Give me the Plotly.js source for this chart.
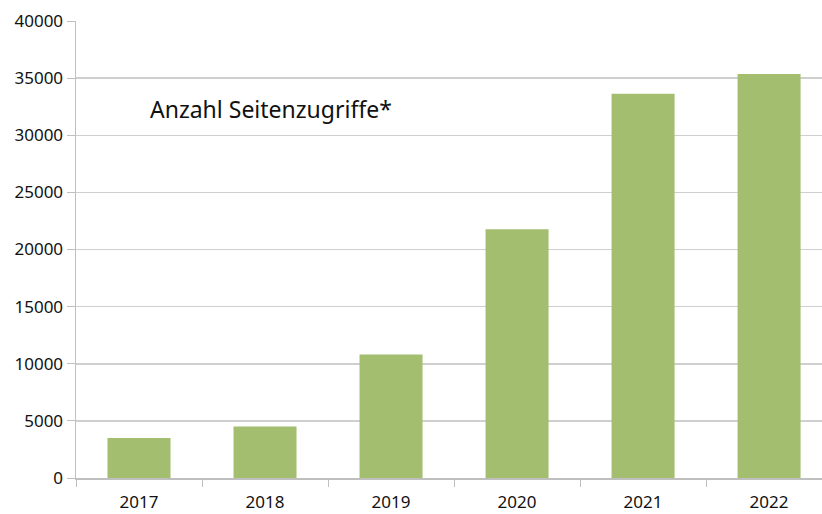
<!DOCTYPE html>
<html><head><meta charset="utf-8">
<script src="https://cdn.plot.ly/plotly-3.0.1.min.js"></script>
<style>html,body{margin:0;padding:0;background:#fff}#chart{width:822px;height:514px}</style>
</head><body><div id="chart"></div>
<script>
const years = ['2017','2018','2019','2020','2021','2022'];
const visits = [3500, 4500, 10820, 21780, 33640, 35360];
const chartLabel = 'Anzahl Seitenzugriffe*';
const yTicks = [0,5000,10000,15000,20000,25000,30000,35000,40000];

const trace = {type:'bar', x: years, y: visits, marker:{color:'#a2be6e'}, hoverinfo:'skip'};
const layout = {
  width:822, height:514,
  margin:{l:76, r:0, t:21, b:36, pad:0},
  paper_bgcolor:'#fff', plot_bgcolor:'#fff',
  bargap:0.5, showlegend:false,
  font:{family:'Noto Sans, sans-serif', size:17, color:'#111'},
  xaxis:{type:'category', range:[-0.5, 5.42], showline:true, linecolor:'#bfbfbf', linewidth:1.5,
    ticks:'outside', tickson:'boundaries', ticklen:7, tickcolor:'#bfbfbf', tickwidth:1,
    ticklabelstandoff:8,
    showgrid:false, zeroline:false, tickfont:{size:17}},
  yaxis:{range:[0,40000], tickvals:yTicks, ticktext:yTicks.map(String), showline:true, linecolor:'#bfbfbf', linewidth:1.5,
    ticks:'outside', ticklen:8, tickcolor:'#bfbfbf', tickwidth:1,
    showgrid:true, gridcolor:'#cfcfcf', gridwidth:1.5, zeroline:false, tickfont:{size:17}},
  annotations:[{xref:'paper', yref:'paper', x:(148-76)/746, y:(478-109)/457, xanchor:'left', yanchor:'middle',
    text:chartLabel, showarrow:false, font:{size:23, color:'#111'}}]
};
Plotly.newPlot('chart',[trace],layout,{staticPlot:true});
</script></body></html>
